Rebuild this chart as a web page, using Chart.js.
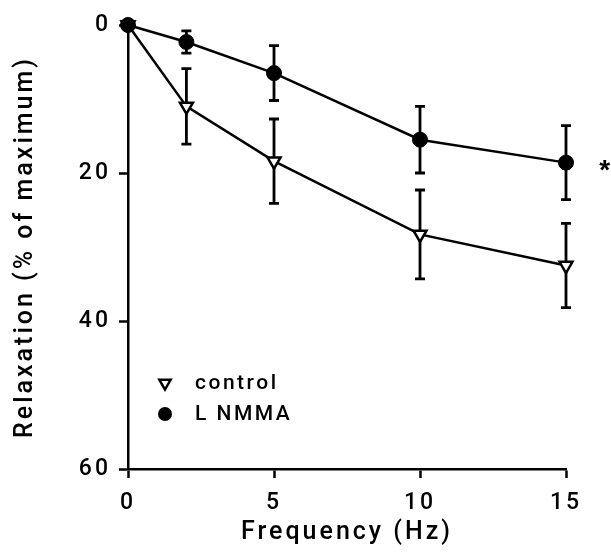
<!DOCTYPE html>
<html>
<head>
<meta charset="utf-8">
<script src="https://cdn.jsdelivr.net/npm/chart.js@4"></script>
<style>
  body { margin: 0; background: #fff; }
  canvas { display: block; }
</style>
</head>
<body>
<canvas id="myChart" width="611" height="556"></canvas>
<script>
// values (relaxation, % of maximum; mean and error)
const freq = [0, 2, 5, 10, 15];
const controlMean = [0, 11.0, 18.4, 28.3, 32.5];
const controlErr = [0, 5.1, 5.7, 6.0, 5.7];
const nmmaMean = [0, 2.3, 6.5, 15.5, 18.6];
const nmmaErr = [0, 1.5, 3.7, 4.5, 5.0];
const xTicks = [0, 5, 10, 15];
const yTicks = [0, 20, 40, 60];

const FONT = 'Roboto, "Liberation Sans", Arial, sans-serif';
const WEIGHT = 500;

// wide tracking like the scanned figure
const spacing = {
  id: 'spacing',
  beforeLayout(chart) { chart.ctx.letterSpacing = '3px'; },
  beforeDraw(chart) { chart.ctx.letterSpacing = '3px'; }
};

const errorBars = {
  id: 'errorBars',
  beforeDatasetsDraw(chart) {
    const ctx = chart.ctx;
    const xs = chart.scales.x, ys = chart.scales.y;
    ctx.save();
    ctx.strokeStyle = 'black';
    ctx.lineWidth = 2.8;
    chart.data.datasets.forEach(ds => {
      ds.data.forEach((p, j) => {
        const e = ds.errors[j];
        if (!e) return;
        const x = xs.getPixelForValue(p.x);
        const y1 = ys.getPixelForValue(p.y - e);
        const y2 = ys.getPixelForValue(p.y + e);
        ctx.beginPath();
        ctx.moveTo(x, y1); ctx.lineTo(x, y2);
        ctx.moveTo(x - 5, y1); ctx.lineTo(x + 5, y1);
        ctx.moveTo(x - 5, y2); ctx.lineTo(x + 5, y2);
        ctx.stroke();
      });
    });
    ctx.restore();
  }
};

const extras = {
  id: 'extras',
  afterDraw(chart) {
    const ctx = chart.ctx;
    const xs = chart.scales.x, ys = chart.scales.y;
    const area = chart.chartArea;
    ctx.save();
    ctx.letterSpacing = '2.5px';
    ctx.fillStyle = 'black';
    ctx.strokeStyle = 'black';
    // legend
    const lx = area.left + 37;
    const rows = [383, 414];
    chart.data.datasets.forEach((ds, i) => {
      const y = rows[i];
      if (ds.pointStyle === 'triangle') {
        const r = 6.5;
        ctx.beginPath();
        ctx.moveTo(lx, y + r);
        ctx.lineTo(lx - r * 0.866, y - r / 2);
        ctx.lineTo(lx + r * 0.866, y - r / 2);
        ctx.closePath();
        ctx.fillStyle = 'white';
        ctx.fill();
        ctx.lineWidth = 2.5;
        ctx.stroke();
        ctx.fillStyle = 'black';
      } else {
        ctx.beginPath();
        ctx.arc(lx, y, 7, 0, Math.PI * 2);
        ctx.fill();
      }
      ctx.font = WEIGHT + ' 21px ' + FONT;
      ctx.textAlign = 'left';
      ctx.textBaseline = 'middle';
      ctx.fillText(ds.label, lx + 30, y + 1);
    });
    // significance mark next to last L NMMA point
    ctx.font = 'bold 28px "Liberation Sans", Arial, sans-serif';
    ctx.textAlign = 'center';
    ctx.textBaseline = 'alphabetic';
    const last = freq.length - 1;
    ctx.fillText('*', xs.getPixelForValue(freq[last]) + 40, ys.getPixelForValue(nmmaMean[last]) + 16);
    ctx.restore();
  }
};

const canvas = document.getElementById('myChart').getContext('2d');
const myChart = new Chart(canvas, {
  type: 'line',
  data: {
    datasets: [
      {
        label: 'control',
        data: freq.map((f, i) => ({ x: f, y: controlMean[i] })),
        errors: controlErr,
        borderColor: 'black',
        borderWidth: 2.5,
        pointStyle: 'triangle',
        rotation: 180,
        pointRadius: 7.5,
        pointBorderWidth: 2.5,
        pointBackgroundColor: 'white',
        pointBorderColor: 'black',
        clip: false,
        order: 1
      },
      {
        label: 'L NMMA',
        data: freq.map((f, i) => ({ x: f, y: nmmaMean[i] })),
        errors: nmmaErr,
        borderColor: 'black',
        borderWidth: 2.5,
        pointStyle: 'circle',
        pointRadius: 7.5,
        pointBorderWidth: 1,
        pointBackgroundColor: 'black',
        pointBorderColor: 'black',
        clip: false,
        order: 0
      }
    ]
  },
  options: {
    responsive: false,
    animation: false,
    layout: { padding: { top: 25, right: 45, left: 0, bottom: 0 } },
    plugins: {
      legend: { display: false },
      tooltip: { enabled: false }
    },
    scales: {
      x: {
        type: 'linear',
        min: 0,
        max: 15,
        afterBuildTicks: s => { s.ticks = xTicks.map(v => ({ value: v })); },
        afterFit: s => { s.height = 87; },
        grid: { drawOnChartArea: false, tickLength: 9, tickWidth: 2.5, color: 'black' },
        border: { display: true, width: 2.5, color: 'black' },
        ticks: { color: 'black', padding: 11, maxRotation: 0, font: { family: FONT, size: 23, weight: WEIGHT } },
        title: {
          display: true,
          text: 'Frequency (Hz)',
          color: 'black',
          font: { family: FONT, size: 25, weight: WEIGHT },
          padding: { top: 0, bottom: 8 }
        }
      },
      y: {
        reverse: true,
        min: 0,
        max: 60,
        afterBuildTicks: s => { s.ticks = yTicks.map(v => ({ value: v })); },
        afterFit: s => { s.width = 128; },
        grid: { drawOnChartArea: false, tickLength: 9, tickWidth: 2.5, color: 'black' },
        border: { display: true, width: 2.5, color: 'black' },
        ticks: { color: 'black', padding: 8, font: { family: FONT, size: 23, weight: WEIGHT } },
        title: {
          display: true,
          text: 'Relaxation (% of maximum)',
          color: 'black',
          font: { family: FONT, size: 25, weight: WEIGHT },
          padding: { top: 11, bottom: 0 }
        }
      }
    }
  },
  plugins: [spacing, errorBars, extras]
});
</script>
</body>
</html>
